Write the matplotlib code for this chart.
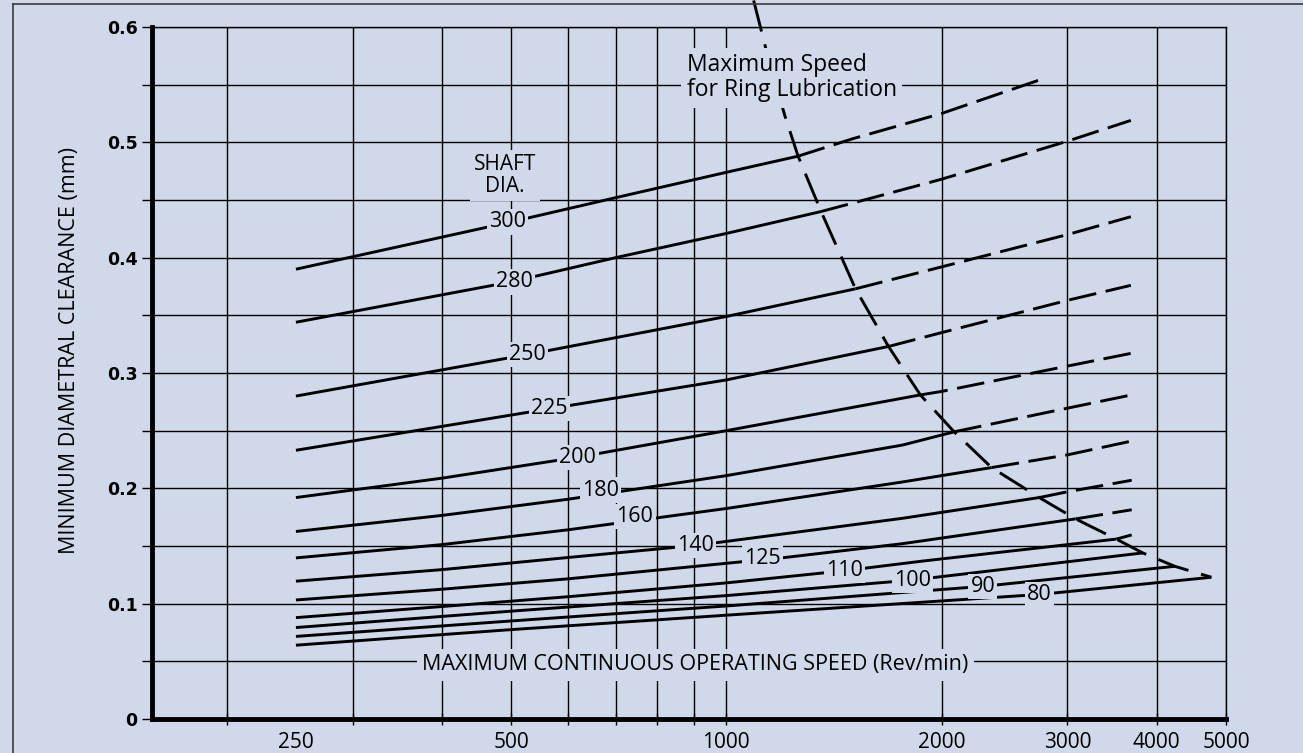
"""
Minimum diametral clearance vs. maximum continuous operating speed
for ring-lubricated sleeve bearings, one curve per shaft diameter.
Solid part = ring lubrication OK, dashed part = beyond the ring limit.
"""

import matplotlib
matplotlib.use("Agg")
import matplotlib.pyplot as plt
from matplotlib.lines import Line2D
from matplotlib.ticker import FixedLocator, FixedFormatter, NullFormatter

BG = "#cfd9ea"

# ----------------------------------------------------------------------
# Data  (speed in rev/min, clearance in mm)
# ----------------------------------------------------------------------
X_GRID = [200, 300, 400, 500, 600, 700, 800, 900, 1000, 2000, 3000, 4000, 5000]
X_LABELS = [250, 500, 1000, 2000, 3000, 4000, 5000]
Y_TICKS = [0, 0.1, 0.2, 0.3, 0.4, 0.5, 0.6]
Y_TICK_LABELS = ["0", "0.1", "0.2", "0.3", "0.4", "0.5", "0.6"]
Y_MINOR = [0.05, 0.15, 0.25, 0.35, 0.45, 0.55]

SHAFT_DIA = [300, 280, 250, 225, 200, 180, 160, 140, 125, 110, 100, 90, 80]

D300_SOLID = ([250, 500, 700, 1000, 1260], [0.390, 0.431, 0.452, 0.474, 0.488])
D300_DASH = ([1260, 1500, 2000, 2800], [0.488, 0.503, 0.525, 0.556])
D280_SOLID = ([250, 500, 700, 1000, 1357], [0.344, 0.379, 0.400, 0.421, 0.440])
D280_DASH = ([1357, 2000, 3000, 3680], [0.440, 0.468, 0.501, 0.519])
D250_SOLID = ([250, 527, 1000, 1516], [0.280, 0.316, 0.349, 0.373])
D250_DASH = ([1516, 2000, 3000, 3680], [0.373, 0.392, 0.420, 0.4355])
D225_SOLID = ([250, 566, 1000, 1686], [0.233, 0.269, 0.294, 0.323])
D225_DASH = ([1686, 2000, 3000, 3680], [0.323, 0.335, 0.363, 0.376])
D200_SOLID = ([250, 400, 620, 1000, 1868], [0.192, 0.2088, 0.227, 0.250, 0.281])
D200_DASH = ([1868, 2000, 3000, 3680], [0.281, 0.284, 0.306, 0.317])
D180_SOLID = ([250, 400, 600, 1000, 1763, 2083], [0.1626, 0.1765, 0.1905, 0.211, 0.2375, 0.249])
D180_DASH = ([2083, 3000, 3690], [0.249, 0.2695, 0.281])
D160_SOLID = ([250, 400, 600, 1000, 1763, 2350], [0.1397, 0.1512, 0.164, 0.1825, 0.2055, 0.218])
D160_DASH = ([2350, 3000, 3690], [0.218, 0.229, 0.241])
D140_SOLID = ([250, 400, 600, 906, 1763, 2740], [0.1195, 0.1295, 0.140, 0.1505, 0.174, 0.192])
D140_DASH = ([2740, 3000, 3690], [0.192, 0.197, 0.207])
D125_SOLID = ([250, 400, 600, 1000, 1207, 1763, 3080],
              [0.1032, 0.1125, 0.1215, 0.135, 0.140, 0.152, 0.1735])
D125_DASH = ([3080, 3690], [0.1735, 0.1814])
D110_SOLID = ([250, 400, 600, 1000, 1460, 1886, 3512],
              [0.0879, 0.0975, 0.106, 0.118, 0.1285, 0.137, 0.156])
D110_DASH = ([3512, 3690], [0.156, 0.1596])
D100_SOLID = ([250, 500, 1000, 1822, 3824], [0.0793, 0.0935, 0.107, 0.1205, 0.144])
D90_SOLID = ([250, 500, 1000, 2285, 4240], [0.0716, 0.0850, 0.098, 0.1150, 0.1324])
D80_SOLID = ([250, 500, 1000, 2744, 4770], [0.064, 0.0775, 0.090, 0.1080, 0.1229])

# where each diameter is written on its curve
LABEL_X = [494, 505, 527, 566, 620, 667, 745, 906, 1123, 1462, 1822, 2285, 2744]
LABEL_Y = [0.431, 0.379, 0.316, 0.269, 0.227, 0.1985, 0.1755, 0.1505, 0.1395,
           0.129, 0.1205, 0.115, 0.108]

# ring lubrication speed limit
MAX_X = [1092, 1142, 1207, 1260, 1357, 1516, 1686, 1868, 2083, 2350, 2740,
         3080, 3512, 3824, 4240, 4770]
MAX_Y = [0.623, 0.5754, 0.5234, 0.488, 0.440, 0.373, 0.323, 0.281, 0.249,
         0.218, 0.192, 0.1735, 0.156, 0.144, 0.1324, 0.1229]

CURVES = [
    (D300_SOLID, D300_DASH), (D280_SOLID, D280_DASH), (D250_SOLID, D250_DASH),
    (D225_SOLID, D225_DASH), (D200_SOLID, D200_DASH), (D180_SOLID, D180_DASH),
    (D160_SOLID, D160_DASH), (D140_SOLID, D140_DASH), (D125_SOLID, D125_DASH),
    (D110_SOLID, D110_DASH), (D100_SOLID, None), (D90_SOLID, None),
    (D80_SOLID, None),
]


def setup_axes(fig):
    W, H = 1303, 753
    ax = fig.add_axes([151.5 / W, 1 - 719 / H, (1226 - 151.5) / W, (719 - 27) / H])
    ax.set_facecolor(BG)
    ax.set_xscale("log")
    ax.set_xlim(157, 5000)
    ax.set_ylim(0, 0.6)

    # x: labels on majors (no tick), grid + inout ticks on minors
    ax.xaxis.set_major_locator(FixedLocator(X_LABELS))
    ax.xaxis.set_major_formatter(FixedFormatter([str(v) for v in X_LABELS]))
    ax.xaxis.set_minor_locator(FixedLocator(X_GRID))
    ax.xaxis.set_minor_formatter(NullFormatter())
    ax.xaxis.remove_overlapping_locs = False
    ax.tick_params(axis="x", which="major", length=0, pad=9, labelsize=15)
    ax.tick_params(axis="x", which="minor", direction="inout", length=9, width=1.0)
    ax.xaxis.grid(True, which="minor", color="black", lw=1.0)

    ax.set_yticks(Y_TICKS)
    ax.set_yticklabels(Y_TICK_LABELS)
    ax.yaxis.set_minor_locator(FixedLocator(Y_MINOR))
    ax.tick_params(axis="y", which="both", direction="out", length=7, width=1.0, pad=3)
    ax.yaxis.grid(True, which="both", color="black", lw=1.0)
    for lab in ax.get_yticklabels():
        lab.set_fontfamily("DejaVu Sans")
        lab.set_fontweight("bold")
        lab.set_fontsize(12.5)

    for side in ("left", "bottom"):
        ax.spines[side].set_linewidth(3.5)
    for side in ("top", "right"):
        ax.spines[side].set_linewidth(1.0)

    ax.set_ylabel("MINIMUM DIAMETRAL CLEARANCE (mm)", fontsize=15.5)
    ax.yaxis.set_label_coords(-0.0665, 0.533)

    # thin frame round the figure (left + top only, as scanned)
    fig.add_artist(Line2D([13 / W, 13 / W], [0, 1 - 4 / H], transform=fig.transFigure,
                          color="#3a3a3a", lw=1.2))
    fig.add_artist(Line2D([13 / W, 1], [1 - 4 / H, 1 - 4 / H], transform=fig.transFigure,
                          color="#3a3a3a", lw=1.2))
    return ax


def draw_curves(ax):
    box = dict(boxstyle="square,pad=0.1", fc=BG, ec="none")
    for (solid, dash), d, lx, ly in zip(CURVES, SHAFT_DIA, LABEL_X, LABEL_Y):
        ax.plot(solid[0], solid[1], color="black", lw=2.1, solid_capstyle="butt", zorder=3)
        if dash is not None:
            ax.plot(dash[0], dash[1], color="black", lw=2.1, dashes=(9.5, 3.3), zorder=3)
        ax.text(lx, ly, str(d), ha="center", va="center", fontsize=15.5,
                bbox=box, zorder=5)

    ax.plot(MAX_X, MAX_Y, color="black", lw=2.1, dashes=(11, 4.5), clip_on=False, zorder=4)

    ax.text(880, 0.556, "Maximum Speed\nfor Ring Lubrication", ha="left", va="center",
            fontsize=16.5, linespacing=1.05,
            bbox=dict(boxstyle="square,pad=0.25", fc=BG, ec="none"), zorder=6)
    ax.text(490, 0.4715, "SHAFT\nDIA.", ha="center", va="center", fontsize=15,
            linespacing=1.05, bbox=dict(boxstyle="square,pad=0.2", fc=BG, ec="none"),
            zorder=6)
    ax.text(905, 0.047, "MAXIMUM CONTINUOUS OPERATING SPEED (Rev/min)", ha="center",
            va="center", fontsize=15.5,
            bbox=dict(boxstyle="square,pad=0.25", fc=BG, ec="none"), zorder=6)


def main():
    plt.rcParams["font.family"] = ["Open Sans", "DejaVu Sans"]
    fig = plt.figure(figsize=(13.03, 7.53), dpi=100, facecolor=BG)
    ax = setup_axes(fig)
    draw_curves(ax)
    fig.savefig("out.png", dpi=100, facecolor=BG)
    plt.close(fig)


if __name__ == "__main__":
    main()
